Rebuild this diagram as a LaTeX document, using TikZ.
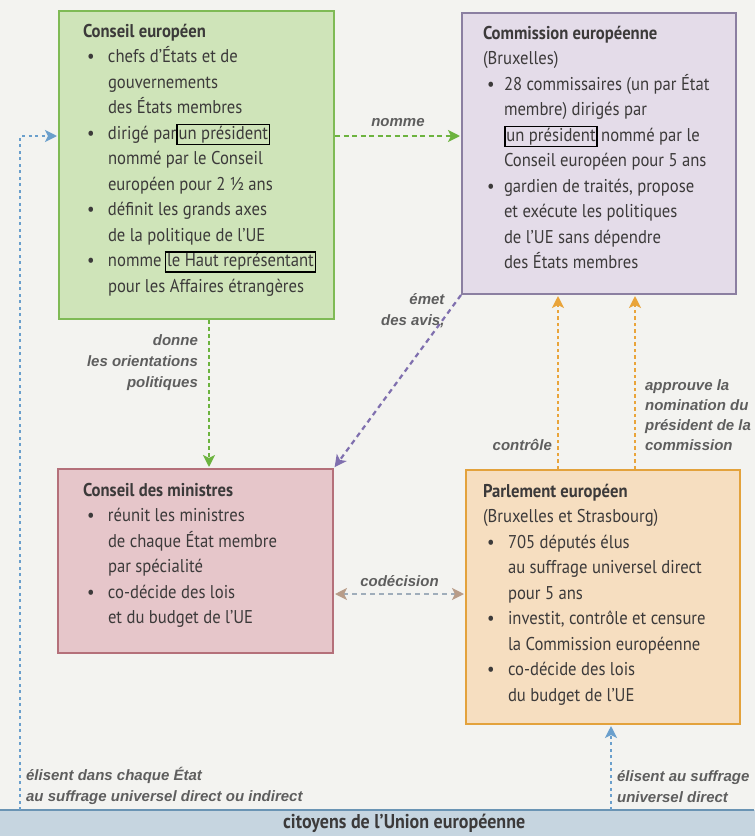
\documentclass[tikz,border=0pt]{standalone}
\usepackage{fontspec}
\usepackage{tikz}
\usetikzlibrary{positioning,arrows.meta}

\newfontfamily\boxfont{PT Sans}[FakeStretch=0.9]
\newfontfamily\labelfont{Liberation Sans}

\definecolor{fond}{HTML}{F3F3F0}
\definecolor{textgrey}{HTML}{3C3A3A}
\definecolor{labelgrey}{HTML}{5E5E5E}
\definecolor{vertfond}{HTML}{CFE4B9}
\definecolor{vertbord}{HTML}{7FBA55}
\definecolor{lilasfond}{HTML}{E4DCE9}
\definecolor{lilasbord}{HTML}{8B7FA1}
\definecolor{rosefond}{HTML}{E6C6CA}
\definecolor{rosebord}{HTML}{B4707A}
\definecolor{orfond}{HTML}{F6DEC0}
\definecolor{orbord}{HTML}{E3A23C}
\definecolor{bleufond}{HTML}{C6D5E0}
\definecolor{bleubord}{HTML}{6A94B4}
\definecolor{flvert}{HTML}{6CB33F}
\definecolor{flbleu}{HTML}{6A9FCC}
\definecolor{flor}{HTML}{E9A43A}
\definecolor{fllilas}{HTML}{7F6FAE}
\definecolor{flgris}{HTML}{9FADBA}
\definecolor{flbrun}{HTML}{B89C88}

% bullet and indent for the box texts
\newlength{\retrait}
\setlength{\retrait}{25pt}
\newcommand{\puce}{\makebox[\retrait][l]{\hspace{4pt}\textbullet}}
\newcommand{\suite}{\hspace*{\retrait}}
\newcommand{\cadre}[1]{{\setlength{\fboxsep}{0.8pt}\setlength{\fboxrule}{1.6pt}%
  \color{black}\fbox{\color{textgrey}#1}}}
% fixed size text block, lines never wrapped
\newcommand{\contenu}[3]{\makebox[#2][l]{\parbox[t][#1][t]{400pt}{\raggedright #3}}}

\begin{document}
\begin{tikzpicture}[
     x = 1pt, y = -1pt,
     > = {Stealth[length=12pt, width=12pt, inset=3pt]}, % arrow head style
     shorten > = 1pt, % don't touch arrow head to node
     auto
 ]

 \tikzstyle{instance} = [
     draw,
     line width = 2pt,
     anchor = north west,
     inner ysep = 13pt,
     text = textgrey,
     font = \boxfont\fontsize{18.5}{25.5}\selectfont
 ]
 \tikzstyle{lien} = [
     ->,
     line width = 2.2pt
 ]
 \tikzstyle{legende} = [
     text = labelgrey,
     inner sep = 0pt,
     font = \labelfont\bfseries\itshape\fontsize{15}{21}\selectfont
 ]

 \useasboundingbox (0,0) rectangle (755,836);
 \fill[fond] (0,0) rectangle (755,836);

 % the four institutions
 \node[instance, fill=vertfond, draw=vertbord, inner xsep=24pt] (ce) at (58,10)
 {\contenu{282pt}{227pt}{%
  \textbf{Conseil européen}\\
  \puce chefs d’États et de\\
  \suite gouvernements\\
  \suite des États membres\\
  \puce dirigé par\cadre{un président}\\
  \suite nommé par le Conseil\\
  \suite européen pour 2 ½ ans\\
  \puce définit les grands axes\\
  \suite de la politique de l’UE\\
  \puce nomme\,\cadre{le Haut représentant}\\
  \suite pour les Affaires étrangères}};

 \node[instance, fill=lilasfond, draw=lilasbord, inner xsep=21pt] (com) at (461,12)
 {\contenu{255pt}{232pt}{\setlength{\retrait}{21pt}%
  \textbf{Commission européenne}\\
  (Bruxelles)\\
  \puce 28 commissaires (un par État\\
  \suite membre) dirigés par\\
  \suite\cadre{un président}\,nommé par le\\
  \suite Conseil européen pour 5 ans\\
  \puce gardien de traités, propose\\
  \suite et exécute les politiques\\
  \suite de l’UE sans dépendre\\
  \suite des États membres}};

 \node[instance, fill=rosefond, draw=rosebord, inner xsep=25pt, inner ysep=14pt] (cm) at (57,468)
 {\contenu{156pt}{225pt}{%
  \textbf{Conseil des ministres}\\
  \puce réunit les ministres\\
  \suite de chaque État membre\\
  \suite par spécialité\\
  \puce co-décide des lois\\
  \suite et du budget de l’UE}};

 \node[instance, fill=orfond, draw=orbord, inner xsep=17pt, inner ysep=14pt] (par) at (465,469)
 {\contenu{226pt}{240pt}{%
  \textbf{Parlement européen}\\
  (Bruxelles et Strasbourg)\\
  \puce 705 députés élus\\
  \suite au suffrage universel direct\\
  \suite pour 5 ans\\
  \puce investit, contrôle et censure\\
  \suite la Commission européenne\\
  \puce co-décide des lois\\
  \suite du budget de l’UE}};

 % the citizens
 \node[fill=bleufond, anchor=north west, minimum width=755pt, minimum height=26pt,
       inner sep=0pt, text=textgrey, font=\boxfont\bfseries\fontsize{20}{20}\selectfont]
       (citoyens) at (0,810) {\hspace*{53pt}citoyens de l’Union européenne};
 \draw[bleubord, line width=1.6pt] (citoyens.north west) -- (citoyens.north east);

 % end points of the connectors
 \coordinate (n1) at ([yshift=29pt]ce.east);
 \coordinate (ceIn) at ([yshift=29pt]ce.west);
 \coordinate (o1) at ([xshift=12.5pt]ce.south);
 \coordinate (k1) at ([yshift=-33pt]cm.east);
 \coordinate (c1) at ([xshift=-45pt]par.north);
 \coordinate (c2) at ([xshift=32pt]par.north);
 \coordinate (g0) at (20,810);
 \coordinate (d0) at (611,810);

 \draw[lien, flvert, dash pattern=on 5pt off 3.5pt] (n1) -- (n1 -| com.west)
     node[legende, midway, above=8pt] {nomme};
 \draw[lien, flvert, dash pattern=on 4pt off 3pt] (o1) -- (o1 |- cm.north)
     node[legende, pos=0.29, anchor=east, xshift=-10pt, align=right] {donne\\les orientations\\politiques};
 \draw[lien, fllilas, dash pattern=on 5pt off 4pt] (com.south west) -- (cm.north east)
     node[legende, pos=0.09, anchor=east, xshift=-4pt, align=right] {émet\\des avis,};
 \draw[lien, flor, dash pattern=on 3.5pt off 3pt] (c1) -- (c1 |- com.south)
     node[legende, pos=0.136, anchor=east, xshift=-5pt] {contrôle};
 \draw[lien, flor, dash pattern=on 3.5pt off 3pt] (c2) -- (c2 |- com.south)
     node[legende, pos=0.31, anchor=west, xshift=9pt, align=left,
          font=\labelfont\bfseries\itshape\fontsize{15}{20}\selectfont]
     {approuve la\\nomination du\\président de la\\commission};
 \draw[line width=2.2pt, flgris, dash pattern=on 5pt off 4pt, shorten <=1pt,
       arrows={Stealth[length=12pt, width=12pt, inset=3pt, color=flbrun]-Stealth[length=12pt, width=12pt, inset=3pt, color=flbrun]}]
     (k1) -- (k1 -| par.west)
     node[legende, midway, above=6pt] {codécision};
 \draw[lien, flbleu, dash pattern=on 3pt off 3.5pt] (g0) |- (ceIn)
     node[legende, pos=0.018, anchor=west, xshift=5pt, align=left]
     {élisent dans chaque État\\au suffrage universel direct ou indirect};
 \draw[lien, flbleu, dash pattern=on 3pt off 3.5pt] (d0) -- (d0 |- par.south)
     node[legende, pos=0.28, anchor=west, xshift=5pt, align=left]
     {élisent au suffrage\\universel direct};
\end{tikzpicture}
\end{document}
